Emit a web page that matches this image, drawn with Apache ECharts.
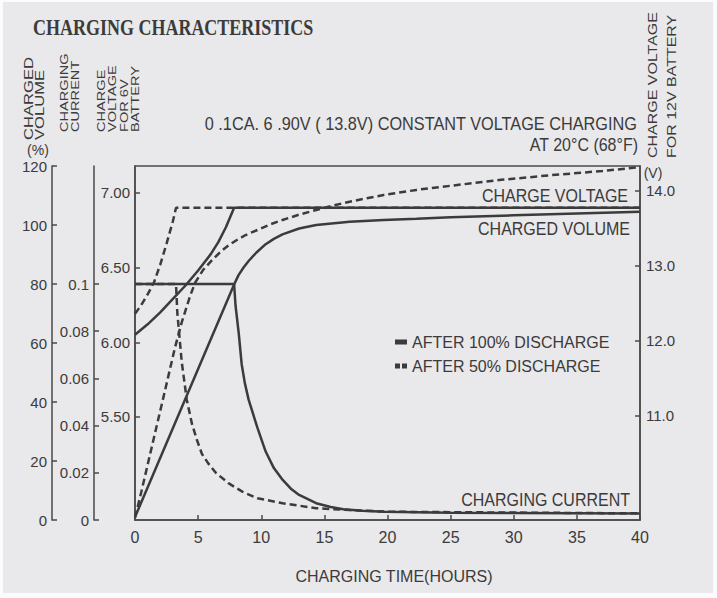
<!DOCTYPE html>
<html>
<head>
<meta charset="utf-8">
<script src="https://cdn.jsdelivr.net/npm/echarts@6/dist/echarts.min.js"></script>
<style>
html,body{margin:0;padding:0;background:#fff;}
#wrap{position:relative;width:717px;height:598px;}
#c{width:717px;height:598px;}
#f{position:absolute;left:0;top:0;width:717px;height:598px;box-sizing:border-box;border-style:solid;border-color:#fbfbfb;border-width:2px 4px 5px 3px;pointer-events:none;}
</style>
</head>
<body>
<div id="wrap"><div id="c"></div><div id="f"></div></div>
<script>
// ---- data (charging time in hours, value) ----
const hourTicks = [0, 5, 10, 15, 20, 25, 30, 35, 40];
const volumeTicks = [0, 20, 40, 60, 80, 100, 120];
const currentTicks = [0, 0.02, 0.04, 0.06, 0.08, 0.1];
const volt6Ticks = [5.5, 6.0, 6.5, 7.0];
const volt12Ticks = [11, 12, 13, 14];

// After 100% discharge (solid)
const voltage100 = [[0,6.05],[1,6.12],[2,6.20],[3,6.29],[4,6.38],[5,6.48],[6,6.59],[6.6,6.67],[7.2,6.77],[7.85,6.90],[40,6.90]];
const current100 = [[0,0.1],[7.85,0.1],[7.96,0.091],[8.22,0.079],[8.45,0.066],[8.7,0.058],[9.0,0.051],[9.7,0.039],[10.35,0.029],[11,0.022],[11.7,0.017],[12.4,0.013],[13,0.0106],[14.35,0.0071],[15.5,0.0055],[16.5,0.0046],[18,0.0039],[19.7,0.0035],[25,0.0031],[40,0.0028]];
const volume100 = [[0,1],[7.85,79.8],[8.2,83],[8.6,85.6],[9.0,87.8],[9.6,90.6],[10.35,93.5],[11,95.3],[11.68,96.8],[13,98.8],[14.35,100],[17,101.1],[19.7,101.7],[22.3,102.1],[25,102.6],[30,103.3],[35,103.9],[40,104.5]];

// After 50% discharge (dashed)
const voltage50 = [[0,6.19],[0.5,6.25],[1,6.32],[1.5,6.40],[2,6.52],[2.5,6.66],[3,6.81],[3.25,6.90],[40,6.90]];
const current50 = [[0,0.1],[3.25,0.1],[3.35,0.088],[3.7,0.067],[4.1,0.051],[4.5,0.041],[4.9,0.034],[5.3,0.028],[5.8,0.024],[6.4,0.020],[7.4,0.0156],[8.5,0.012],[9.7,0.0092],[11.7,0.0071],[14.35,0.005],[17,0.0042],[20,0.0035],[40,0.0028]];
const volume50 = [[0,0.8],[0.5,9.5],[1,18.7],[1.5,27.9],[2,37],[2.6,48],[3.17,58.5],[3.7,67],[4.37,76],[4.77,80.5],[5.4,84.8],[6.1,88.1],[6.8,91],[7.43,93.2],[8.1,95],[8.76,96.6],[9.8,98.5],[10.7,100.2],[11.68,101.7],[13,103.5],[14.35,105.1],[15.7,106.6],[17,107.9],[19.7,110.2],[22.3,111.9],[25,113.3],[29,115.3],[33,116.9],[37,118.3],[40,119.6]];

const S100 = 'AFTER 100% DISCHARGE';
const S50 = 'AFTER 50% DISCHARGE';

// ---- style ----
const INK = '#3b3b3b';
const AX = '#4a4a4a';
const FONT = '"Liberation Sans", Arial, sans-serif';
const BG = '#e9e8ea';

function tick(vals) {
  const t = {show: true, inside: true, length: 5, lineStyle: {color: AX, width: 1.5}};
  if (vals) t.customValues = vals;
  return t;
}
function lab(vals, fmt, margin) {
  const l = {color: INK, fontSize: 15, fontFamily: FONT, margin: margin || 5};
  if (vals) l.customValues = vals;
  if (fmt) l.formatter = fmt;
  return l;
}
function yAx(o) {
  return Object.assign({
    type: 'value', position: 'left', offset: 0,
    splitLine: {show: false},
    axisLine: {show: true, onZero: false, lineStyle: {color: AX, width: 1.5}}
  }, o);
}

function text(str, x, y, o) {
  o = o || {};
  return {
    type: 'text', x: x, y: y, z: 50,
    rotation: o.rot || 0, scaleX: o.sx || 1, scaleY: o.sy || 1,
    silent: true,
    style: {
      text: str, fill: INK,
      fontSize: o.fs || 16, fontFamily: o.ff || FONT, fontWeight: o.fw || 'normal',
      align: o.align || 'left', verticalAlign: 'middle'
    }
  };
}
const ROT = Math.PI / 2;

const chart = echarts.init(document.getElementById('c'), null, {renderer: 'svg'});
const dash = [7, 4];
function line(name, yi, data, dashed) {
  return {
    type: 'line', name: name, yAxisIndex: yi, data: data,
    showSymbol: false, symbol: 'none', smooth: false, silent: true,
    color: INK,
    lineStyle: {color: INK, width: 2.5, type: dashed ? dash : 'solid'},
    z: dashed ? 3 : 4
  };
}

chart.setOption({
  animation: false,
  backgroundColor: BG,
  grid: {left: 135, right: 77, top: 166, bottom: 78, show: true, borderColor: AX, borderWidth: 1.5, backgroundColor: 'transparent'},
  legend: {
    orient: 'vertical', left: 395, top: 334, padding: 0, itemGap: 8, itemWidth: 12, itemHeight: 5,
    selectedMode: false,
    itemStyle: {borderWidth: 0},
    textStyle: {color: INK, fontSize: 16, fontFamily: FONT, lineHeight: 16},
    data: [
      {name: S100, icon: 'rect'},
      {name: S50, icon: 'path://M0,0h5v5h-5z M7,0h5v5h-5z'}
    ]
  },
  xAxis: {
    type: 'value', min: 0, max: 40, interval: 5,
    splitLine: {show: false},
    axisLine: {show: true, onZero: false, lineStyle: {color: AX, width: 1.5}},
    axisTick: tick(hourTicks),
    axisLabel: {color: INK, fontSize: 16, fontFamily: FONT, margin: 9, customValues: hourTicks},
    name: 'CHARGING TIME(HOURS)', nameLocation: 'middle', nameGap: 48,
    nameTextStyle: {color: INK, fontSize: 16, fontFamily: FONT, padding: [0, 0, 0, 13]}
  },
  yAxis: [
    yAx({offset: 83, min: 0, max: 120, axisTick: tick(volumeTicks), axisLabel: lab(volumeTicks)}),
    yAx({offset: 41, min: 0, max: 0.15, axisTick: tick(currentTicks),
      axisLabel: lab(currentTicks, v => String(+v.toFixed(2)))}),
    yAx({offset: 0, min: 4.81, max: 7.18, axisTick: tick(volt6Ticks),
      axisLabel: lab(volt6Ticks, v => v.toFixed(2))}),
    yAx({position: 'right', offset: 0, min: 9.61, max: 14.33, axisTick: tick(volt12Ticks),
      axisLabel: lab(volt12Ticks, v => v.toFixed(1), 6)})
  ],
  series: [
    line(S50, 2, voltage50, true),
    line(S50, 1, current50, true),
    line(S50, 0, volume50, true),
    line(S100, 2, voltage100, false),
    line(S100, 1, current100, false),
    line(S100, 0, volume100, false)
  ],
  graphic: [
    text('CHARGING CHARACTERISTICS', 33, 27.5, {fs: 18, fw: 'bold', ff: '"Liberation Serif", "DejaVu Serif", serif', sy: 1.25}),
    // left axis titles (rotated)
    text('CHARGED', 29, 140, {rot: ROT, fs: 16.6, sy: 0.72}),
    text('VOLUME', 39.5, 140, {rot: ROT, fs: 16.6, sy: 0.72}),
    text('(%)', 38, 150, {fs: 14, align: 'center'}),
    text('CHARGING', 64.5, 132, {rot: ROT, fs: 14.6, sy: 0.78}),
    text('CURRENT', 75.5, 132, {rot: ROT, fs: 14.6, sy: 0.78}),
    text('CHARGE', 101, 132, {rot: ROT, fs: 14.6, sy: 0.78}),
    text('VOLTAGE', 112.5, 132, {rot: ROT, fs: 14.6, sy: 0.78}),
    text('FOR 6V', 124, 132, {rot: ROT, fs: 14.6, sy: 0.78}),
    text('BATTERY', 135.5, 132, {rot: ROT, fs: 14.6, sy: 0.78}),
    // right axis title
    text('CHARGE VOLTAGE', 652.5, 158, {rot: ROT, fs: 16, sy: 0.85}),
    text('FOR 12V BATTERY', 671, 158, {rot: ROT, fs: 16, sy: 0.85}),
    text('(V)', 653, 173, {fs: 14, align: 'center'}),
    // annotations
    text('0 .1CA. 6 .90V ( 13.8V) CONSTANT VOLTAGE CHARGING', 637, 124, {fs: 16.3, align: 'right', sy: 1.15}),
    text('AT 20°C (68°F)', 638, 144.5, {align: 'right', sy: 1.15}),
    text('CHARGE VOLTAGE', 628, 196, {align: 'right', sy: 1.15}),
    text('CHARGED VOLUME', 630, 228.5, {align: 'right', sy: 1.15}),
    text('CHARGING CURRENT', 630, 500, {align: 'right', sy: 1.15})
  ]
});
</script>
</body>
</html>
